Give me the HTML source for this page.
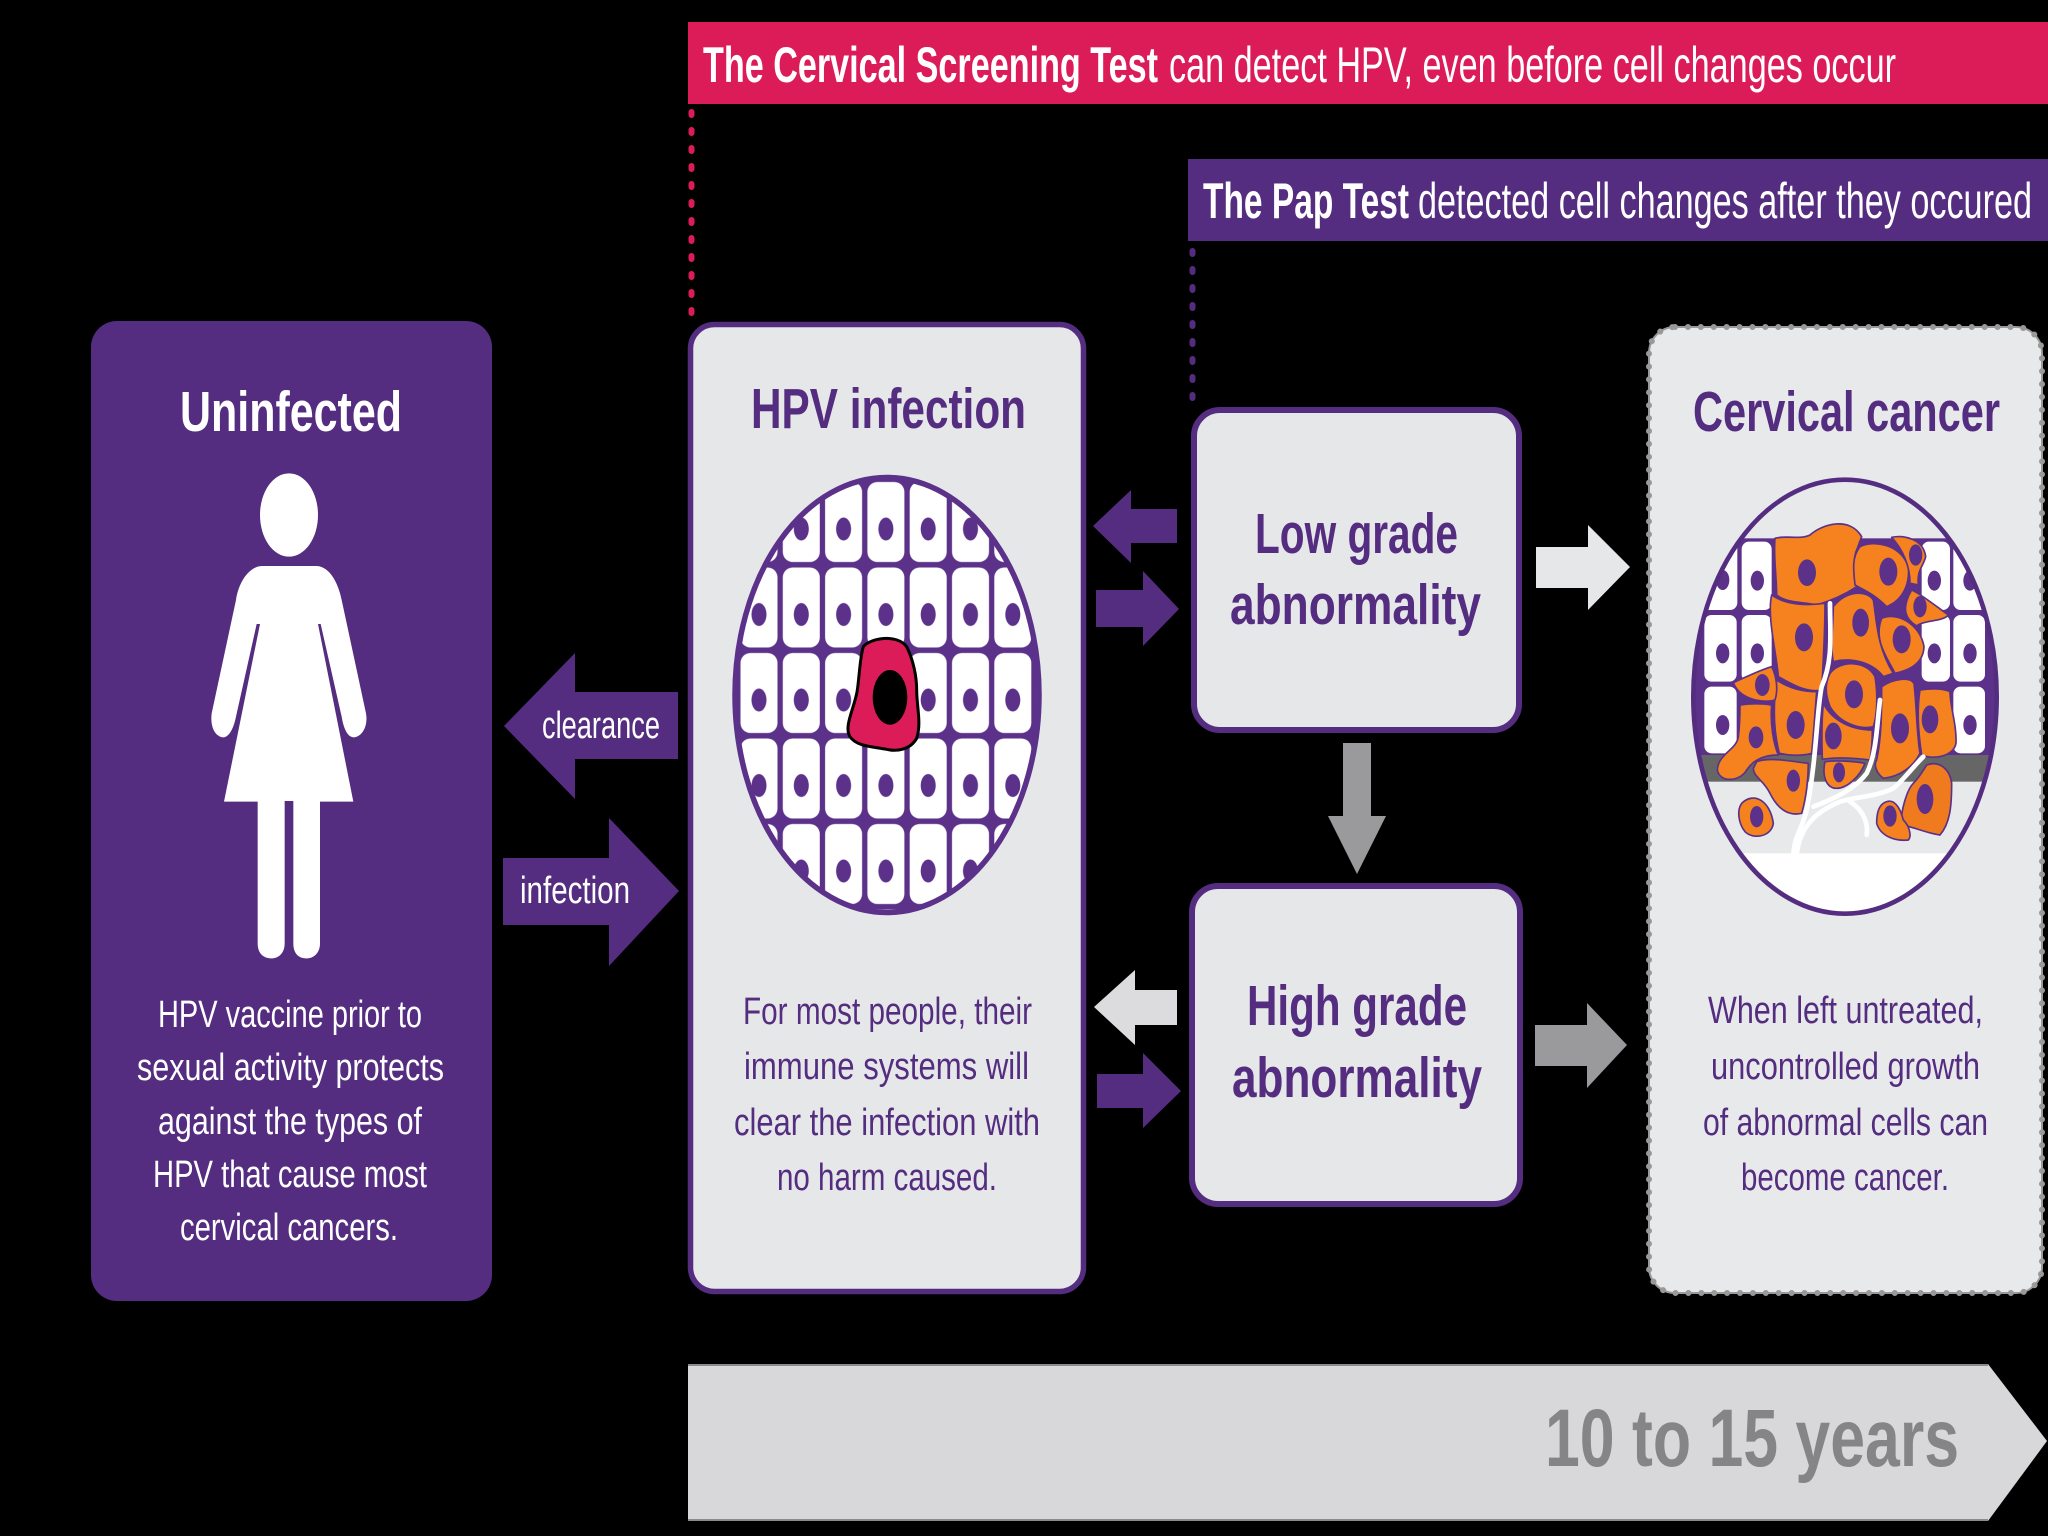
<!DOCTYPE html>
<html><head><meta charset="utf-8"><style>
html,body{margin:0;padding:0;background:#000;width:2048px;height:1536px;overflow:hidden}
svg{display:block}
text{font-family:"Liberation Sans",sans-serif}
.b{font-weight:700}
.w{fill:#fff}.p{fill:#552d80}
.t{font-size:57px;font-weight:700}
.s{font-size:38px}
</style></head><body>
<svg width="2048" height="1536" viewBox="0 0 2048 1536" xmlns="http://www.w3.org/2000/svg">
<defs>
<pattern id="cells" patternUnits="userSpaceOnUse" x="737.85" y="479.25" width="42.3" height="85.5">
<rect width="42.3" height="85.5" fill="#5b3189"/>
<rect x="2.65" y="2.75" width="37" height="80" rx="10" fill="#fff"/>
<ellipse cx="21.15" cy="49.75" rx="7.5" ry="11.5" fill="#5b3189"/>
</pattern>
<clipPath id="c2"><ellipse cx="555" cy="710" rx="455" ry="651"/></clipPath>
</defs>
<rect width="2048" height="1536" fill="#000"/>

<!-- top bars -->
<rect x="688" y="22" width="1360" height="82" fill="#dc1c59"/>
<text x="703" y="82" class="b w" font-size="50" textLength="455" lengthAdjust="spacingAndGlyphs">The Cervical Screening Test</text>
<text x="1169" y="82" class="w" font-size="50" textLength="727" lengthAdjust="spacingAndGlyphs">can detect HPV, even before cell changes occur</text>
<line x1="691.5" y1="112" x2="691.5" y2="320" stroke="#dc1c59" stroke-width="6" stroke-linecap="round" stroke-dasharray="3 15"/>
<rect x="1188" y="159" width="860" height="82" fill="#552d80"/>
<text x="1203" y="218" class="b w" font-size="50" textLength="206" lengthAdjust="spacingAndGlyphs">The Pap Test</text>
<text x="1418" y="218" class="w" font-size="50" textLength="614" lengthAdjust="spacingAndGlyphs">detected cell changes after they occured</text>
<line x1="1192.5" y1="251" x2="1192.5" y2="402" stroke="#552d80" stroke-width="6" stroke-linecap="round" stroke-dasharray="3 15"/>

<!-- Uninfected -->
<rect x="91" y="321" width="401" height="980" rx="26" fill="#552d80"/>
<text x="180" y="431" class="t w" textLength="222" lengthAdjust="spacingAndGlyphs">Uninfected</text>
<g transform="translate(180,450) scale(0.33333)" fill="#fff">
<ellipse cx="327" cy="195" rx="87" ry="125"/>
<path d="M245,348 L410,348 C450,350 475,400 485,450 L558,790 C565,830 545,862 520,862 C500,860 490,830 485,800 L422,522 L414,522 L520,1055 L420,1055 L420,1480 C420,1510 400,1525 380,1525 C355,1525 340,1510 340,1480 L340,1053 L314,1053 L314,1480 C314,1510 295,1525 275,1525 C250,1525 233,1510 233,1480 L233,1055 L132,1055 L240,522 L230,522 L168,800 C160,840 145,862 130,862 C105,860 90,830 95,790 L168,450 C175,400 205,350 245,348Z"/>
</g>
<g class="s">
<text x="158" y="1027" class="w" textLength="264" lengthAdjust="spacingAndGlyphs">HPV vaccine prior to</text>
<text x="137" y="1080" class="w" textLength="307" lengthAdjust="spacingAndGlyphs">sexual activity protects</text>
<text x="158" y="1134" class="w" textLength="264" lengthAdjust="spacingAndGlyphs">against the types of</text>
<text x="153" y="1187" class="w" textLength="274" lengthAdjust="spacingAndGlyphs">HPV that cause most</text>
<text x="180" y="1240" class="w" textLength="218" lengthAdjust="spacingAndGlyphs">cervical cancers.</text>
</g>

<!-- clearance / infection arrows -->
<polygon points="504,726 575,653 575,692 678,692 678,759 575,759 575,799" fill="#552d80"/>
<text x="542" y="738" class="s w" textLength="118" lengthAdjust="spacingAndGlyphs">clearance</text>
<polygon points="503,858 609,858 609,818 679,891 609,966 609,925 503,925" fill="#552d80"/>
<text x="520" y="903" class="s w" textLength="110" lengthAdjust="spacingAndGlyphs">infection</text>

<!-- HPV infection -->
<rect x="690.5" y="324.5" width="393" height="967" rx="24" fill="#e6e7e9" stroke="#552d80" stroke-width="5.5"/>
<text x="751" y="428" class="t p" textLength="275" lengthAdjust="spacingAndGlyphs">HPV infection</text>
<ellipse cx="887" cy="695" rx="152" ry="217.5" fill="url(#cells)" stroke="#5b3189" stroke-width="5.5"/>
<g transform="translate(700,450) scale(0.33333)">
<path d="M490,590 C510,565 590,550 620,590 C640,630 650,680 650,720 C650,770 665,820 650,865 C630,900 590,905 560,898 C520,890 470,890 450,860 C430,830 465,770 472,720 C478,680 480,620 490,590Z" fill="#dc1c59" stroke="#000" stroke-width="9"/>
<ellipse cx="570" cy="742" rx="52" ry="82" fill="#000"/>
</g>
<g class="s">
<text x="743" y="1024" class="p" textLength="289" lengthAdjust="spacingAndGlyphs">For most people, their</text>
<text x="744" y="1079" class="p" textLength="285" lengthAdjust="spacingAndGlyphs">immune systems will</text>
<text x="734" y="1135" class="p" textLength="306" lengthAdjust="spacingAndGlyphs">clear the infection with</text>
<text x="777" y="1190" class="p" textLength="220" lengthAdjust="spacingAndGlyphs">no harm caused.</text>
</g>

<!-- small arrows -->
<polygon points="1093,526 1131,490 1131,509 1177,509 1177,543 1131,543 1131,563" fill="#552d80"/>
<polygon points="1096,590 1143,590 1143,571 1179,609 1143,646 1143,627 1096,627" fill="#552d80"/>
<polygon points="1094,1007 1135,970 1135,990 1177,990 1177,1025 1135,1025 1135,1045" fill="#dcdcde"/>
<polygon points="1097,1074 1143,1074 1143,1053 1181,1091 1143,1128 1143,1108 1097,1108" fill="#552d80"/>

<!-- Low / High -->
<rect x="1194" y="410" width="325" height="320" rx="26" fill="#e6e7e9" stroke="#552d80" stroke-width="6"/>
<text x="1255" y="553" class="t p" textLength="203" lengthAdjust="spacingAndGlyphs">Low grade</text>
<text x="1230" y="624" class="t p" textLength="251" lengthAdjust="spacingAndGlyphs">abnormality</text>
<rect x="1192" y="886" width="328" height="318" rx="26" fill="#e6e7e9" stroke="#552d80" stroke-width="6"/>
<text x="1247" y="1025" class="t p" textLength="220" lengthAdjust="spacingAndGlyphs">High grade</text>
<text x="1232" y="1097" class="t p" textLength="250" lengthAdjust="spacingAndGlyphs">abnormality</text>

<polygon points="1343,743 1371,743 1371,816 1386,816 1357,874 1328,816 1343,816" fill="#9a9a9c"/>
<polygon points="1536,547 1588,547 1588,525 1630,567 1588,610 1588,588 1536,588" fill="#e6e7e9"/>
<polygon points="1535,1025 1587,1025 1587,1003 1627,1045 1587,1088 1587,1066 1535,1066" fill="#9a9a9c"/>

<!-- Cervical cancer -->
<rect x="1649" y="327" width="393" height="966" rx="26" fill="#e8e9eb" stroke="#999" stroke-width="2"/>
<rect x="1649" y="327" width="393" height="966" rx="26" fill="none" stroke="#999" stroke-width="6" stroke-linecap="round" stroke-dasharray="0.1 12.8"/>
<text x="1693" y="431" class="t p" textLength="307" lengthAdjust="spacingAndGlyphs">Cervical cancer</text>
<g transform="translate(1660,460) scale(0.33333)">
<g clip-path="url(#c2)">
<rect x="90" y="235" width="940" height="650" fill="#5b3189"/>
<g fill="#fff">
<rect x="100" y="245" width="132" height="205" rx="22"/><rect x="245" y="245" width="90" height="205" rx="22"/><rect x="785" y="245" width="85" height="205" rx="22"/><rect x="880" y="245" width="120" height="205" rx="22"/>
<rect x="133" y="465" width="97" height="200" rx="22"/><rect x="245" y="465" width="90" height="200" rx="22"/><rect x="785" y="465" width="85" height="200" rx="22"/><rect x="880" y="465" width="95" height="200" rx="22"/>
<rect x="133" y="680" width="97" height="200" rx="22"/><rect x="880" y="680" width="95" height="200" rx="22"/>
</g>
<g fill="#5b3189">
<ellipse cx="188" cy="360" rx="20" ry="30"/><ellipse cx="292" cy="362" rx="20" ry="30"/><ellipse cx="823" cy="362" rx="20" ry="30"/><ellipse cx="930" cy="362" rx="20" ry="30"/>
<ellipse cx="188" cy="580" rx="20" ry="30"/><ellipse cx="292" cy="580" rx="20" ry="30"/><ellipse cx="823" cy="580" rx="20" ry="30"/><ellipse cx="930" cy="580" rx="20" ry="30"/>
<ellipse cx="188" cy="795" rx="20" ry="30"/><ellipse cx="930" cy="795" rx="20" ry="30"/>
</g>
<rect x="90" y="885" width="940" height="80" fill="#666"/>
<rect x="90" y="1180" width="940" height="200" fill="#fff"/>
</g>
<g fill="#f5821f" stroke="#5b3189" stroke-width="5" stroke-linejoin="round">
<path d="M345,235 C380,225 420,240 450,225 C490,190 570,170 605,230 L590,270 C575,300 590,370 590,380 C560,400 520,420 470,435 C430,425 380,430 350,405 C350,350 340,290 345,235Z"/>
<path d="M600,260 C640,240 720,250 745,320 C750,370 730,420 680,440 C640,400 610,390 585,375 C580,330 575,290 600,260Z"/>
<path d="M695,232 C730,225 790,235 797,290 C790,320 770,330 775,375 L750,370 C750,320 730,270 695,232Z"/>
<path d="M755,390 C780,400 830,440 865,465 C850,485 790,480 770,498 C740,480 720,450 755,390Z"/>
<path d="M335,405 C370,430 420,440 495,430 C495,520 490,600 485,690 C440,700 390,670 355,650 C350,580 320,470 335,405Z"/>
<path d="M520,440 C560,390 620,390 640,420 C650,480 650,560 700,640 L670,650 C640,610 580,590 520,605 C510,560 520,490 520,440Z"/>
<path d="M665,475 C710,455 780,490 792,560 C790,610 750,630 705,640 C680,590 640,540 665,475Z"/>
<path d="M490,730 C510,770 560,810 637,810 C637,840 635,870 630,900 C590,895 530,890 487,898 C485,840 485,780 490,730Z"/>
<path d="M510,640 C540,600 620,600 645,650 C655,710 650,770 640,800 C600,810 540,790 510,740 C495,700 495,670 510,640Z"/>
<path d="M350,660 C380,680 420,695 470,695 C465,760 460,830 455,880 C420,890 380,885 358,880 C340,810 340,730 350,660Z"/>
<path d="M220,668 C260,650 300,630 335,620 C350,650 355,690 345,720 C310,730 240,720 220,668Z"/>
<path d="M240,735 C270,730 310,730 335,735 C330,790 340,850 355,885 C310,885 280,900 260,930 C240,965 180,970 172,930 C175,880 230,870 235,830 C240,790 240,760 240,735Z"/>
<path d="M290,905 C330,890 400,905 445,910 C445,950 440,1010 425,1060 C380,1070 350,1040 330,1000 C310,960 280,950 280,925 Z"/>
<path d="M245,1030 C280,995 330,1020 340,1090 C335,1130 280,1140 255,1115 C235,1090 230,1050 245,1030Z"/>
<path d="M495,905 C540,900 590,905 615,910 C600,950 560,985 530,985 C500,985 485,950 495,905Z"/>
<path d="M665,680 C700,655 750,650 762,670 C770,740 770,820 780,880 C760,920 720,950 670,955 C650,940 640,915 650,900 C665,830 665,750 665,680Z"/>
<path d="M780,690 C810,685 850,685 870,695 C870,740 890,790 888,850 C880,890 820,900 785,885 C775,820 770,750 780,690Z"/>
<path d="M800,915 C840,900 870,930 875,970 C875,1040 870,1090 840,1125 C800,1120 760,1100 725,1095 C720,1060 740,990 760,970 C780,950 790,930 800,915Z" fill="#f07a1e"/>
<path d="M670,1030 C700,1010 720,1040 730,1080 C750,1100 755,1130 745,1140 C700,1145 660,1125 650,1090 C650,1060 655,1040 670,1030Z"/>
</g>
<g fill="#5b3189">
<ellipse cx="441" cy="338" rx="27" ry="40"/><ellipse cx="685" cy="335" rx="27" ry="42"/><ellipse cx="767" cy="285" rx="20" ry="32"/><ellipse cx="780" cy="440" rx="20" ry="32"/>
<ellipse cx="432" cy="532" rx="27" ry="42"/><ellipse cx="602" cy="488" rx="25" ry="42"/><ellipse cx="725" cy="538" rx="27" ry="42"/><ellipse cx="582" cy="703" rx="27" ry="42"/>
<ellipse cx="307" cy="675" rx="22" ry="33"/><ellipse cx="407" cy="795" rx="27" ry="42"/><ellipse cx="288" cy="832" rx="22" ry="33"/><ellipse cx="400" cy="962" rx="20" ry="33"/>
<ellipse cx="290" cy="1070" rx="20" ry="32"/><ellipse cx="520" cy="828" rx="25" ry="40"/><ellipse cx="537" cy="937" rx="18" ry="30"/><ellipse cx="720" cy="805" rx="27" ry="45"/>
<ellipse cx="810" cy="778" rx="25" ry="42"/><ellipse cx="795" cy="1017" rx="25" ry="45"/><ellipse cx="690" cy="1068" rx="20" ry="32"/>
</g>
<g fill="none" stroke="#fff" stroke-width="14" stroke-linecap="round">
<path d="M510,430 C510,520 520,600 485,680 C470,750 470,900 440,1050 C430,1100 400,1130 400,1190"/>
<path d="M660,720 C650,800 650,880 620,940 C590,980 540,1010 460,1040"/>
<path d="M790,890 C760,920 730,960 700,985 C650,1010 590,1010 540,1025 C480,1050 420,1090 410,1185"/>
<path d="M570,1025 C610,1050 625,1090 620,1125"/>
</g>
<ellipse cx="555" cy="710" rx="455" ry="651" fill="none" stroke="#552d80" stroke-width="14"/>
</g>
<g class="s">
<text x="1708" y="1023" class="p" textLength="275" lengthAdjust="spacingAndGlyphs">When left untreated,</text>
<text x="1711" y="1079" class="p" textLength="269" lengthAdjust="spacingAndGlyphs">uncontrolled growth</text>
<text x="1703" y="1135" class="p" textLength="285" lengthAdjust="spacingAndGlyphs">of abnormal cells can</text>
<text x="1741" y="1190" class="p" textLength="208" lengthAdjust="spacingAndGlyphs">become cancer.</text>
</g>

<!-- timeline -->
<polygon points="688,1364 1988,1364 2047,1441 1988,1521 688,1521" fill="#d8d8da"/>
<rect x="688" y="1364" width="1300" height="2" fill="#8a8a8c"/>
<rect x="688" y="1519" width="1300" height="2" fill="#8a8a8c"/>
<text x="1545" y="1466" class="b" font-size="82" fill="#858587" textLength="414" lengthAdjust="spacingAndGlyphs">10 to 15 years</text>
</svg>
</body></html>
